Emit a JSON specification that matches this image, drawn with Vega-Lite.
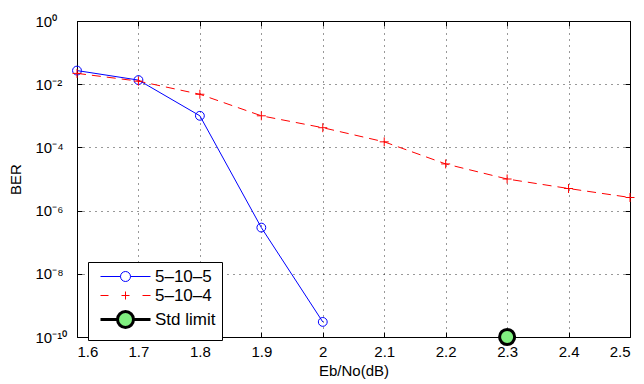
{
  "$schema": "https://vega.github.io/schema/vega-lite/v6.json",
  "width": 553,
  "height": 316,
  "autosize": "none",
  "padding": {"left": 77, "top": 21, "right": 14, "bottom": 47},
  "config": {
    "font": "Liberation Sans",
    "view": {"stroke": "#000", "strokeWidth": 1},
    "axis": {
      "domain": false,
      "tickColor": "#000",
      "tickWidth": 1,
      "labelColor": "#000",
      "titleColor": "#000",
      "labelFont": "Liberation Sans",
      "titleFont": "Liberation Sans",
      "labelFontSize": 15,
      "titleFontSize": 15,
      "titleFontWeight": "normal"
    },
    "legend": {
      "orient": "none",
      "legendX": 11,
      "legendY": 241,
      "padding": 6,
      "strokeColor": "#000",
      "fillColor": "#fff",
      "labelFont": "Liberation Sans",
      "labelFontSize": 17,
      "labelColor": "#000",
      "labelLimit": 0,
      "symbolSize": 100,
      "symbolOpacity": 1,
      "symbolOffset": 23,
      "labelOffset": 21,
      "rowPadding": 1
    }
  },
  "data": {
    "values": [
      {"series": "5–10–5", "ebno": 1.6, "ber": 2.7e-2},
      {"series": "5–10–5", "ebno": 1.7, "ber": 1.35e-2},
      {"series": "5–10–5", "ebno": 1.8, "ber": 1.0e-3},
      {"series": "5–10–5", "ebno": 1.9, "ber": 2.9e-7},
      {"series": "5–10–5", "ebno": 2.0, "ber": 3.0e-10},
      {"series": "5–10–4", "ebno": 1.6, "ber": 2.2e-2},
      {"series": "5–10–4", "ebno": 1.7, "ber": 1.25e-2},
      {"series": "5–10–4", "ebno": 1.8, "ber": 4.8e-3},
      {"series": "5–10–4", "ebno": 1.9, "ber": 1.0e-3},
      {"series": "5–10–4", "ebno": 2.0, "ber": 4.2e-4},
      {"series": "5–10–4", "ebno": 2.1, "ber": 1.5e-4},
      {"series": "5–10–4", "ebno": 2.2, "ber": 3.0e-5},
      {"series": "5–10–4", "ebno": 2.3, "ber": 1.0e-5},
      {"series": "5–10–4", "ebno": 2.4, "ber": 5.0e-6},
      {"series": "5–10–4", "ebno": 2.5, "ber": 2.6e-6},
      {"series": "Std limit", "ebno": 2.3, "ber": 1.0e-10}
    ]
  },
  "resolve": {"axis": {"x": "independent", "y": "independent"}},
  "layer": [
    {
      "transform": [{"filter": "datum.series === '5–10–5'"}],
      "mark": {"type": "line", "stroke": "#0000ff", "strokeWidth": 1, "clip": false},
      "encoding": {
        "x": {
          "field": "ebno", "type": "quantitative",
          "scale": {"domain": [1.6, 2.5], "nice": false, "zero": false},
          "axis": {"orient": "top", "labels": false, "title": null, "grid": false, "tickSize": -5,
                   "values": [1.6, 1.7, 1.8, 1.9, 2.0, 2.1, 2.2, 2.3, 2.4, 2.5]}
        },
        "y": {
          "field": "ber", "type": "quantitative",
          "scale": {"type": "log", "domain": [1e-10, 1], "nice": false},
          "axis": {"orient": "right", "labels": false, "title": null, "grid": false, "tickSize": -5,
                   "values": [1e-10, 1e-8, 1e-6, 1e-4, 1e-2, 1]}
        }
      }
    },
    {
      "transform": [{"filter": "datum.series === '5–10–4'"}],
      "mark": {"type": "line", "stroke": "#ff0000", "strokeWidth": 1, "strokeDash": [9, 6], "clip": false},
      "encoding": {
        "x": {"field": "ebno", "type": "quantitative", "axis": null},
        "y": {"field": "ber", "type": "quantitative", "axis": null}
      }
    },
    {
      "transform": [{"filter": "datum.series === '5–10–5'"}],
      "mark": {"type": "point", "clip": false, "shape": "circle", "size": 78, "stroke": "#0000ff", "strokeWidth": 1, "fill": "transparent", "opacity": 1},
      "encoding": {
        "x": {
          "field": "ebno", "type": "quantitative",
          "scale": {"domain": [1.6, 2.5], "nice": false, "zero": false},
          "axis": {"orient": "bottom", "title": "Eb/No(dB)", "grid": true, "gridDash": [1, 5], "gridColor": "#000", "gridOpacity": 0.8,
                   "tickSize": -5, "labelPadding": 12, "titlePadding": 4, "format": "~g",
                   "values": [1.6, 1.7, 1.8, 1.9, 2.0, 2.1, 2.2, 2.3, 2.4, 2.5]}
        },
        "y": {
          "field": "ber", "type": "quantitative",
          "scale": {"type": "log", "domain": [1e-10, 1], "nice": false},
          "axis": {"orient": "left", "title": "BER", "grid": true, "gridDash": [1, 5], "gridColor": "#000", "gridOpacity": 0.8,
                   "tickSize": -5, "labelAlign": "left", "labelPadding": 47, "titlePadding": 12,
                   "values": [1e-10, 1e-8, 1e-6, 1e-4, 1e-2, 1],
                   "labelExpr": "['10⁻¹⁰','10⁻⁸','10⁻⁶','10⁻⁴','10⁻²','10⁰'][round(log(datum.value)/LN10/2)+5]"}
        }
      }
    },
    {
      "transform": [{"filter": "datum.series === '5–10–4'"}],
      "mark": {"type": "point", "clip": false, "shape": "M-1,0H1M0,-1V1", "size": 81, "stroke": "#ff0000", "strokeWidth": 1, "fill": "transparent", "opacity": 1},
      "encoding": {
        "x": {"field": "ebno", "type": "quantitative", "axis": null},
        "y": {"field": "ber", "type": "quantitative", "axis": null}
      }
    },
    {
      "transform": [{"filter": "datum.series === 'Std limit'"}],
      "mark": {"type": "point", "clip": false, "shape": "circle", "size": 227, "stroke": "#000000", "strokeWidth": 3, "fill": "#80f080", "opacity": 1},
      "encoding": {
        "x": {"field": "ebno", "type": "quantitative", "axis": null},
        "y": {"field": "ber", "type": "quantitative", "axis": null}
      }
    },
    {
      "transform": [{"filter": "datum.series === 'none'"}],
      "mark": {"type": "point", "clip": false},
      "encoding": {
        "x": {"field": "ebno", "type": "quantitative", "axis": null},
        "y": {"field": "ber", "type": "quantitative", "axis": null},
        "shape": {
          "field": "series", "type": "nominal",
          "scale": {"domain": ["5–10–5", "5–10–4", "Std limit"],
                    "range": ["M-5,0H-1M1,0H5M-1,0A1,1,0,1,1,1,0A1,1,0,1,1,-1,0",
                              "M-5,0H-3.4M3.4,0H5M-0.8,0H0.8M0,-0.8V0.8",
                              "M-5,0H-1.6M1.6,0H5M-1.6,0A1.6,1.6,0,1,1,1.6,0A1.6,1.6,0,1,1,-1.6,0"]},
          "legend": {"title": null}
        },
        "fill": {
          "field": "series", "type": "nominal",
          "scale": {"domain": ["5–10–5", "5–10–4", "Std limit"], "range": ["rgba(0,0,0,0)", "rgba(0,0,0,0)", "#80f080"]},
          "legend": {"title": null}
        },
        "strokeWidth": {
          "field": "series", "type": "nominal",
          "scale": {"type": "ordinal", "domain": ["5–10–5", "5–10–4", "Std limit"], "range": [1, 1, 3]},
          "legend": {"title": null}
        },
        "stroke": {
          "field": "series", "type": "nominal",
          "scale": {"domain": ["5–10–5", "5–10–4", "Std limit"], "range": ["#0000ff", "#ff0000", "#000000"]},
          "legend": {"title": null}
        }
      }
    }
  ]
}
